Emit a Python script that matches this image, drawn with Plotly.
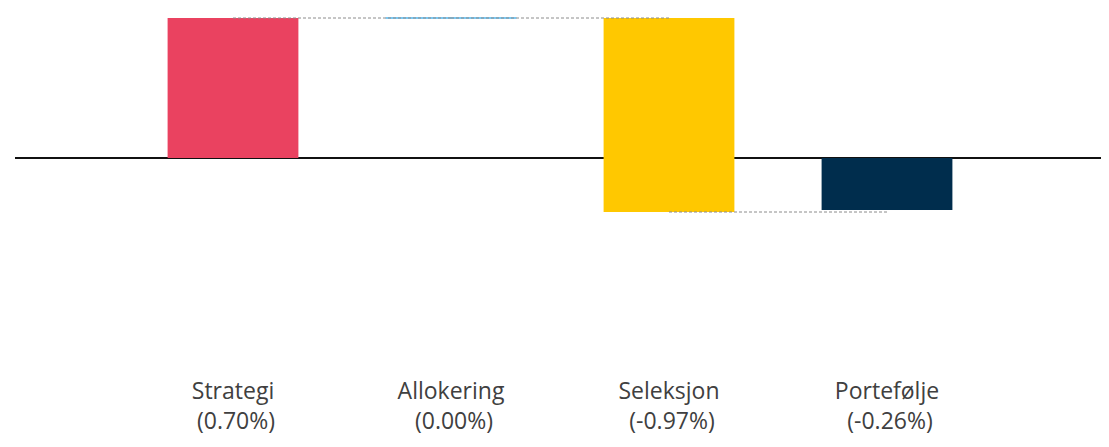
import plotly.graph_objects as go

categories = ["Strategi", "Allokering", "Seleksjon", "Portefølje"]
values = [0.70, 0.00, -0.97, -0.26]
is_total = [False, False, False, True]
colors = ["#EA4260", "#7CC8F2", "#FFC800", "#002D4D"]

bar_w = 0.6
x_idx = list(range(len(categories)))

# compute bases / ends
bases, ends = [], []
cum = 0.0
for v, t in zip(values, is_total):
    if t:
        bases.append(0.0)
        ends.append(v)
        cum = v
    else:
        bases.append(cum)
        cum = cum + v
        ends.append(cum)

fig = go.Figure()

for i, (c, v, b, col) in enumerate(zip(categories, values, bases, colors)):
    if abs(v) > 1e-9:
        fig.add_trace(go.Bar(x=[i], y=[v], base=[b], width=bar_w,
                             marker=dict(color=col, line=dict(width=0)),
                             hoverinfo="skip", showlegend=False))
    else:
        fig.add_trace(go.Scatter(x=[i - bar_w / 2, i + bar_w / 2], y=[b, b], mode="lines",
                                 line=dict(color=col, width=2), hoverinfo="skip", showlegend=False))

# connectors
for i in range(len(categories) - 1):
    lvl = ends[i]
    fig.add_trace(go.Scatter(x=[i, i + 1], y=[lvl, lvl], mode="lines",
                             line=dict(color="#8C8C8C", width=1, dash="3px,2px"),
                             hoverinfo="skip", showlegend=False))

ticktext = [f"{c}<br>\u00a0({v:.2f}%)" for c, v in zip(categories, values)]

fig.update_layout(
    width=1101, height=439,
    margin=dict(l=7, r=4, t=2, b=75),
    plot_bgcolor="white", paper_bgcolor="white",
    barmode="overlay",
    font=dict(family="Open Sans, sans-serif", size=23, color="#404040"),
    xaxis=dict(range=[-1, 4], tickvals=x_idx, ticktext=ticktext, showgrid=False,
               zeroline=False, showline=False, ticks="", ticklabelstandoff=3),
    yaxis=dict(range=[-1.07, 0.74], showgrid=False, showticklabels=False,
               zeroline=True, zerolinecolor="#111111", zerolinewidth=2, ticks=""),
)

fig.write_html("out.html")
